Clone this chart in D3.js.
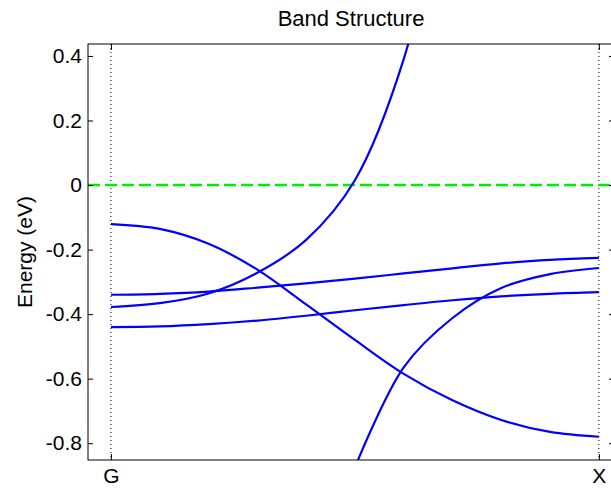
<!DOCTYPE html>
<html>
<head>
<meta charset="utf-8">
<script src="https://cdn.jsdelivr.net/npm/d3@7"></script>
<style>
  html, body { margin: 0; padding: 0; background: #fff; }
  svg { display: block; font-family: "Liberation Sans", Arial, Helvetica, sans-serif; }
</style>
</head>
<body>
<svg id="chart" width="611" height="491"></svg>
<script>
// Wave-vector samples along the G -> X path (fraction of the path)
const kPoints = [0, 0.1, 0.2, 0.3, 0.4, 0.5, 0.6, 0.7, 0.8, 0.9, 1.0];

// Band energies (eV) at each k sample
const band1 = [-0.378, -0.366, -0.336, -0.272, -0.170, 0.015, 0.390, 1.040, null, null, null];
const band2 = [-0.121, -0.136, -0.182, -0.262, -0.370, -0.480, -0.585, -0.667, -0.728, -0.765, -0.780];
const band3 = [-0.340, -0.337, -0.330, -0.318, -0.305, -0.290, -0.274, -0.258, -0.243, -0.232, -0.226];
const band4 = [-0.440, -0.438, -0.431, -0.420, -0.405, -0.388, -0.372, -0.357, -0.345, -0.337, -0.332];
const band5 = [null, null, null, null, null, -0.875, -0.565, -0.412, -0.319, -0.276, -0.257];
const bands = [band1, band2, band3, band4, band5];

// Axis annotations
const yTicks = [-0.8, -0.6, -0.4, -0.2, 0, 0.2, 0.4];
const kTickValues = [0, 1];
const kTickLabels = ["G", "X"];
const fermiLevel = 0;

const svg = d3.select("#chart");
const W = 611, H = 491;
const plot = { left: 88, right: 614, top: 44, bottom: 460 };

const x = d3.scaleLinear().domain([-0.047, 1.031]).range([plot.left, plot.right]);
const y = d3.scaleLinear().domain([-0.852, 0.437]).range([plot.bottom, plot.top]);

svg.append("rect").attr("width", W).attr("height", H).attr("fill", "#fff");

svg.append("defs").append("clipPath").attr("id", "plotClip")
  .append("rect")
  .attr("x", plot.left).attr("y", plot.top)
  .attr("width", plot.right - plot.left).attr("height", plot.bottom - plot.top);

// Symmetry-point guide lines
svg.append("g").selectAll("line").data(kTickValues).join("line")
  .attr("x1", d => x(d)).attr("x2", d => x(d))
  .attr("y1", plot.top).attr("y2", plot.bottom)
  .attr("stroke", "#000").attr("stroke-width", 1)
  .attr("stroke-dasharray", "1,3");

// Fermi level
svg.append("line")
  .attr("x1", plot.left).attr("x2", plot.right)
  .attr("y1", y(fermiLevel)).attr("y2", y(fermiLevel))
  .attr("stroke", "#00ee00").attr("stroke-width", 2.5)
  .attr("stroke-dasharray", "12,5");

// Bands
const line = d3.line()
  .defined(d => d[1] !== null)
  .x(d => x(d[0]))
  .y(d => y(d[1]))
  .curve(d3.curveCatmullRom.alpha(0.5));

svg.append("g").attr("clip-path", "url(#plotClip)")
  .selectAll("path").data(bands).join("path")
  .attr("d", b => line(kPoints.map((k, i) => [k, b[i]])))
  .attr("fill", "none")
  .attr("stroke", "#0000ff")
  .attr("stroke-width", 2.2);

// Axes (ticks point inward on all four sides)
const fmt = d => String(d);
const axLeft = svg.append("g").attr("transform", `translate(${plot.left},0)`)
  .call(d3.axisLeft(y).tickValues(yTicks).tickFormat(fmt).tickSizeInner(-5).tickSizeOuter(0).tickPadding(6));
const axRight = svg.append("g").attr("transform", `translate(${plot.right},0)`)
  .call(d3.axisRight(y).tickValues(yTicks).tickFormat("").tickSizeInner(-5).tickSizeOuter(0));
const axBottom = svg.append("g").attr("transform", `translate(0,${plot.bottom})`)
  .call(d3.axisBottom(x).tickValues(kTickValues).tickFormat((d, i) => kTickLabels[i]).tickSizeInner(-6).tickSizeOuter(0).tickPadding(8));
const axTop = svg.append("g").attr("transform", `translate(0,${plot.top})`)
  .call(d3.axisTop(x).tickValues(kTickValues).tickFormat("").tickSizeInner(-6).tickSizeOuter(0));

[axLeft, axRight, axBottom, axTop].forEach(g => {
  g.select(".domain").remove();
  g.selectAll(".tick line").attr("stroke", "#000");
  g.selectAll(".tick text").attr("fill", "#000").style("font-size", "21px")
    .style("font-family", '"Liberation Sans", Arial, sans-serif');
});

// Axes box
svg.append("rect")
  .attr("x", plot.left).attr("y", plot.top)
  .attr("width", plot.right - plot.left).attr("height", plot.bottom - plot.top)
  .attr("fill", "none").attr("stroke", "#000").attr("stroke-width", 1);

// Title and axis label
svg.append("text")
  .attr("x", (plot.left + plot.right) / 2).attr("y", 26)
  .attr("text-anchor", "middle")
  .style("font-size", "22px")
  .text("Band Structure");

svg.append("text")
  .attr("transform", `translate(32,${(plot.top + plot.bottom) / 2}) rotate(-90)`)
  .attr("text-anchor", "middle")
  .style("font-size", "21px")
  .text("Energy (eV)");
</script>
</body>
</html>
